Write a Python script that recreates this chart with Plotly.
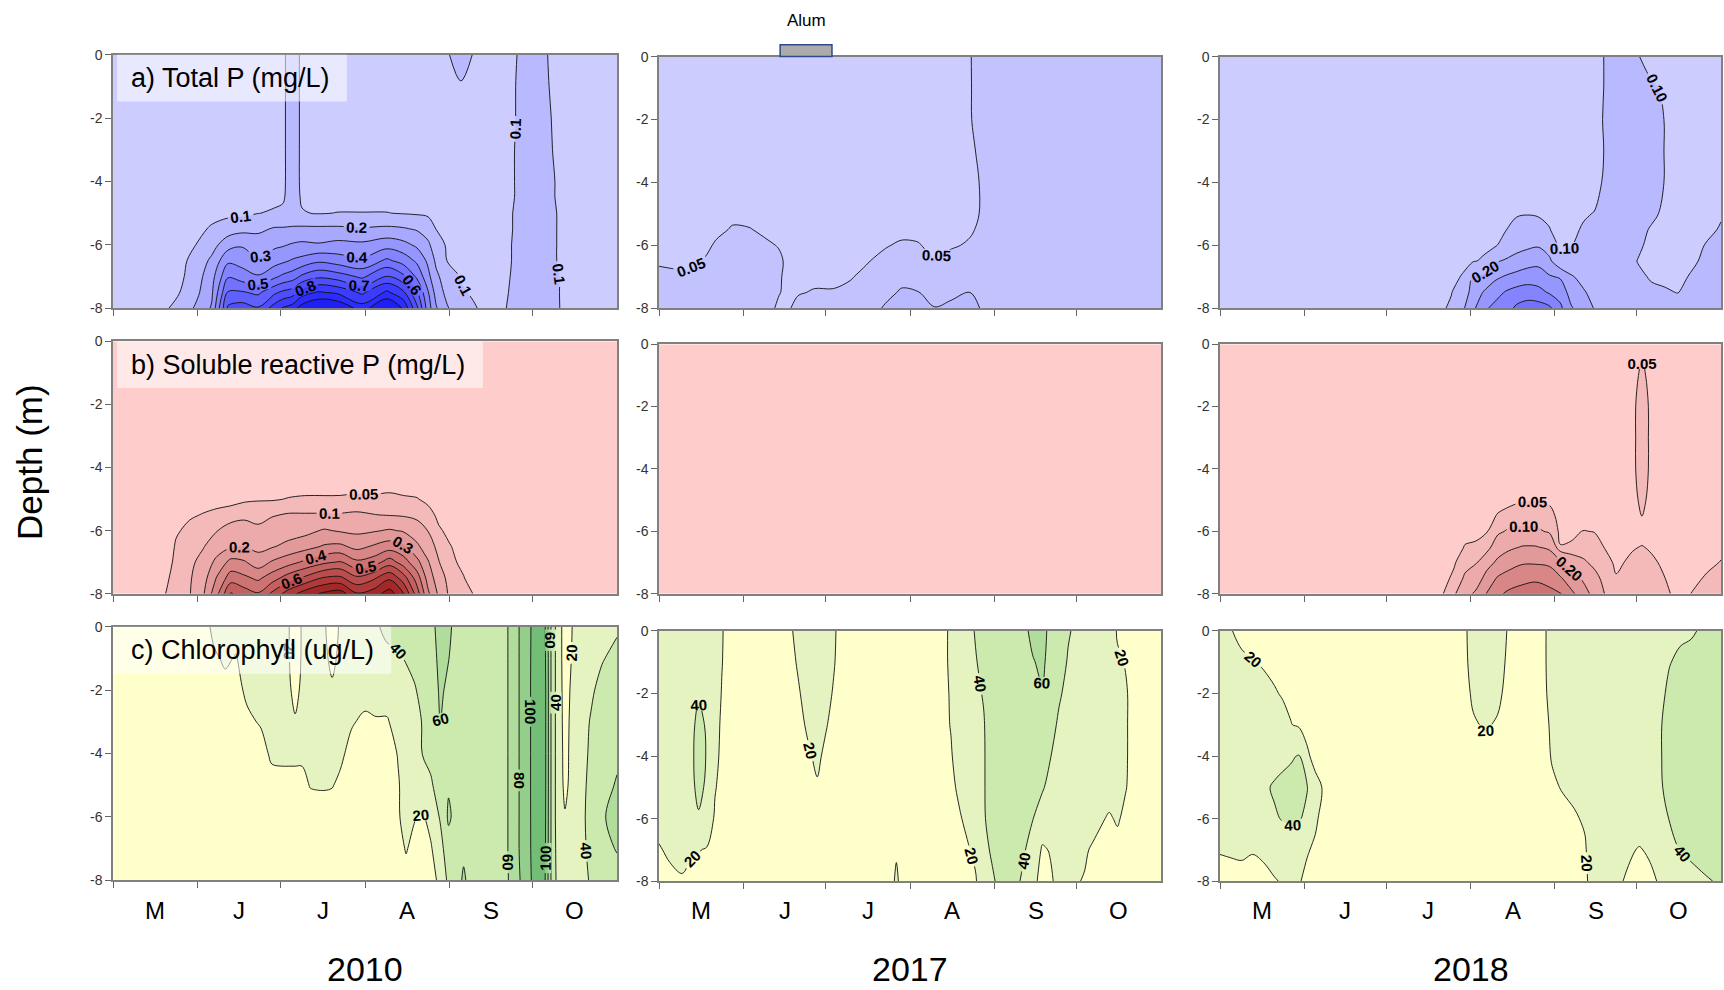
import numpy as np
import plotly.graph_objects as go

FONT = "Liberation Sans"
W, H = 1724, 990

# ---------------- shared axis content ----------------
MONTH_STARTS = [0, 31, 61, 92, 123, 153]          # days after 1 May
MONTH_MIDS = [15.5, 46, 76.5, 107.5, 138, 168.5]
MONTH_LETTERS = ["M", "J", "J", "A", "S", "O"]
SEASON_END = 184
YEARS = ["2010", "2017", "2018"]
DEPTH_TICKS = [0, -2, -4, -6, -8]
ALUM_2017 = [44.4, 63.4]                          # alum application window (days after 1 May)

# ---------------- a) Total P (mg/L) ----------------
TP10_DEPTHS = [0, -1, -2, -3, -4, -4.5, -5, -5.5, -6, -6.5, -7, -7.5, -8]
TP10_DAYS = [0, 18, 24, 30, 36, 42, 47, 53, 59, 62, 65.5, 69, 75, 82, 91, 100, 106, 111, 115, 118,
             122, 127, 132, 137, 142.5, 150, 156, 164, 174, 184]
TP10 = [
    [.07, .07, .07, .07, .07, .07, .07, .07, .07, .07, .07, .07, .07],
    [.07, .07, .07, .07, .07, .07, .07, .07, .07, .07, .07, .075, .08],
    [.07, .07, .07, .07, .07, .07, .07, .07, .07, .07, .075, .095, .13],
    [.07, .07, .07, .07, .07, .07, .07, .075, .098, .13, .15, .17, .21],
    [.07, .07, .07, .07, .07, .07, .075, .11, .16, .22, .26, .28, .31],
    [.07, .07, .07, .07, .07, .07, .078, .15, .26, .38, .49, .61, .72],
    [.07, .07, .07, .07, .07, .07, .08, .17, .29, .36, .45, .61, .75],
    [.07, .07, .07, .07, .07, .075, .098, .18, .25, .31, .41, .58, .71],
    [.07, .07, .07, .07, .07, .08, .11, .21, .28, .36, .48, .68, .85],
    [.085, .085, .085, .085, .085, .09, .115, .21, .29, .38, .52, .72, .91],
    [.14, .14, .14, .14, .14, .14, .15, .21, .31, .41, .55, .75, .95],
    [.085, .085, .085, .085, .085, .09, .105, .22, .32, .43, .62, .85, 1.05],
    [.07, .07, .07, .07, .07, .07, .095, .22, .31, .48, .68, .91, 1.12],
    [.07, .07, .07, .07, .07, .07, .102, .22, .33, .45, .65, .88, 1.1],
    [.07, .07, .07, .07, .07, .07, .102, .21, .32, .42, .58, .78, .95],
    [.07, .07, .07, .07, .07, .07, .102, .22, .36, .52, .71, .92, 1.12],
    [.07, .07, .07, .07, .07, .07, .095, .21, .33, .46, .62, .82, .99],
    [.07, .07, .07, .07, .07, .07, .09, .19, .28, .38, .48, .61, .72],
    [.07, .07, .07, .07, .07, .07, .085, .15, .22, .28, .33, .41, .45],
    [.07, .07, .07, .07, .07, .07, .08, .098, .14, .18, .22, .26, .31],
    [.095, .07, .07, .07, .07, .07, .07, .08, .09, .098, .15, .17, .21],
    [.125, .095, .07, .07, .07, .07, .07, .07, .075, .085, .095, .11, .13],
    [.095, .07, .07, .07, .07, .07, .07, .07, .07, .075, .08, .09, .105],
    [.07, .07, .07, .07, .07, .07, .07, .07, .07, .07, .07, .075, .08],
    [.07, .07, .07, .07, .07, .07, .075, .075, .08, .08, .085, .09, .095],
    [.115, .12, .12, .125, .125, .125, .13, .13, .13, .13, .13, .13, .13],
    [.115, .12, .125, .125, .13, .13, .13, .13, .13, .13, .135, .135, .14],
    [.07, .07, .075, .08, .085, .085, .09, .09, .09, .09, .095, .095, .095],
    [.07, .07, .07, .07, .07, .07, .07, .07, .07, .07, .07, .07, .07],
    [.07, .07, .07, .07, .07, .07, .07, .07, .07, .07, .07, .07, .07],
]

TP_DEPTHS = [0, -1, -2, -3, -4, -5, -5.5, -6, -6.5, -7, -7.5, -8]
TP17_DAYS = [0, 12, 17, 21, 27, 33, 40, 44, 47, 51, 57, 64, 70, 76, 83, 89, 95, 101, 107, 114,
             119, 131, 152, 184]
TP17 = [
    [.04, .04, .04, .04, .04, .04, .04, .043, .048, .054, .056, .058],
    [.04, .04, .04, .04, .04, .04, .04, .043, .047, .053, .056, .058],
    [.04, .04, .04, .04, .04, .04, .042, .045, .052, .056, .058, .06],
    [.04, .04, .04, .04, .04, .042, .045, .053, .056, .058, .06, .06],
    [.04, .04, .04, .04, .04, .045, .052, .056, .058, .06, .06, .06],
    [.04, .04, .04, .04, .04, .044, .051, .055, .057, .058, .058, .058],
    [.04, .04, .04, .04, .04, .043, .046, .052, .055, .056, .056, .056],
    [.04, .04, .04, .04, .04, .042, .044, .049, .053, .052, .051, .046],
    [.04, .04, .04, .04, .04, .042, .044, .046, .047, .046, .046, .048],
    [.04, .04, .04, .04, .04, .042, .043, .044, .045, .047, .049, .054],
    [.04, .04, .04, .04, .04, .042, .043, .044, .045, .047, .051, .055],
    [.04, .04, .04, .04, .04, .042, .043, .044, .045, .047, .051, .055],
    [.04, .04, .04, .04, .04, .042, .043, .044, .046, .049, .053, .056],
    [.04, .04, .04, .04, .04, .042, .043, .045, .049, .053, .056, .062],
    [.04, .04, .04, .04, .04, .042, .045, .049, .054, .06, .078, .11],
    [.04, .04, .04, .04, .04, .043, .046, .052, .058, .075, .11, .12],
    [.04, .04, .04, .04, .04, .043, .046, .051, .056, .07, .102, .115],
    [.04, .04, .04, .04, .042, .044, .045, .046, .051, .06, .08, .102],
    [.04, .04, .04, .043, .045, .045, .046, .049, .053, .065, .09, .11],
    [.049, .049, .049, .048, .048, .048, .049, .051, .055, .068, .101, .112],
    [.06, .058, .057, .053, .051, .051, .052, .054, .056, .065, .08, .095],
    [.065, .065, .065, .065, .065, .065, .065, .065, .065, .066, .068, .07],
    [.065, .065, .065, .065, .065, .065, .065, .065, .065, .065, .065, .065],
    [.065, .065, .065, .065, .065, .065, .065, .065, .065, .065, .065, .065],
]

TP18_DAYS = [0, 40, 79, 85, 89, 93, 97, 101, 105, 109, 113, 117, 121, 125, 129, 133.5, 137.5,
             141.5, 147.5, 153.5, 158.5, 163.5, 168, 172, 178, 184]
TP18 = [
    [.07, .07, .07, .07, .07, .07, .07, .07, .07, .07, .07, .07],
    [.07, .07, .07, .07, .07, .07, .07, .07, .07, .07, .07, .07],
    [.07, .07, .07, .07, .07, .07, .07, .07, .07, .07, .075, .08],
    [.07, .07, .07, .07, .07, .07, .07, .07, .07, .08, .098, .11],
    [.07, .07, .07, .07, .07, .07, .07, .07, .08, .105, .14, .18],
    [.07, .07, .07, .07, .07, .07, .07, .08, .095, .21, .24, .28],
    [.07, .07, .07, .07, .07, .07, .07, .085, .11, .22, .31, .38],
    [.07, .07, .07, .07, .07, .07, .08, .09, .19, .28, .36, .43],
    [.07, .07, .07, .07, .07, .085, .098, .14, .21, .31, .41, .46],
    [.07, .07, .07, .07, .07, .095, .12, .16, .24, .33, .44, .52],
    [.07, .07, .07, .07, .075, .098, .125, .18, .26, .35, .45, .55],
    [.07, .07, .07, .07, .075, .095, .12, .19, .27, .35, .43, .55],
    [.07, .07, .07, .07, .07, .09, .102, .15, .22, .31, .39, .52],
    [.07, .07, .07, .07, .07, .075, .08, .085, .12, .29, .36, .42],
    [.07, .07, .07, .07, .07, .08, .09, .098, .13, .21, .26, .31],
    [.07, .07, .07, .07, .075, .095, .105, .12, .14, .17, .21, .25],
    [.07, .07, .07, .07, .08, .102, .11, .12, .13, .15, .17, .195],
    [.105, .105, .11, .105, .11, .115, .12, .12, .125, .125, .13, .13],
    [.13, .13, .13, .13, .13, .13, .13, .13, .13, .13, .13, .13],
    [.102, .12, .125, .125, .125, .12, .115, .11, .098, .11, .12, .13],
    [.085, .105, .12, .12, .12, .11, .095, .085, .085, .095, .11, .125],
    [.075, .095, .098, .098, .098, .09, .08, .075, .08, .09, .105, .12],
    [.07, .07, .07, .07, .07, .07, .07, .07, .075, .085, .099, .115],
    [.07, .07, .07, .07, .07, .07, .07, .07, .085, .101, .11, .12],
    [.07, .07, .07, .07, .07, .07, .085, .101, .11, .115, .12, .12],
    [.07, .07, .07, .07, .07, .095, .105, .11, .115, .12, .12, .12],
]

# ---------------- b) Soluble reactive P (mg/L) ----------------
SRP10_DEPTHS = [0, -1, -2, -3, -4, -4.5, -5, -5.5, -6, -6.5, -7, -7.5, -8]
SRP10_DAYS = [0, 15, 19, 23, 28, 33, 38, 43, 48, 53, 58, 64, 70, 77, 83, 89, 95, 101, 106, 111,
              115, 119, 123, 128, 133.5, 152, 184]
SRP10 = [
    [.02, .02, .02, .02, .02, .02, .02, .02, .02, .02, .02, .02, .02],
    [.02, .02, .02, .02, .02, .02, .02, .02, .02, .02, .02, .02, .03],
    [.02, .02, .02, .02, .02, .02, .02, .02, .02, .02, .02, .035, .048],
    [.02, .02, .02, .02, .02, .02, .025, .035, .045, .055, .065, .075, .085],
    [.02, .02, .02, .02, .02, .022, .03, .045, .06, .07, .08, .09, .095],
    [.02, .02, .02, .02, .02, .025, .035, .052, .07, .095, .13, .16, .19],
    [.02, .02, .02, .02, .02, .025, .035, .06, .098, .15, .23, .31, .38],
    [.02, .02, .02, .02, .02, .025, .035, .07, .13, .19, .33, .45, .61],
    [.02, .02, .02, .02, .02, .027, .04, .09, .12, .205, .31, .42, .55],
    [.02, .02, .02, .02, .02, .028, .045, .085, .11, .17, .25, .38, .51],
    [.02, .02, .02, .02, .02, .03, .045, .095, .13, .19, .31, .45, .62],
    [.02, .02, .02, .02, .02, .03, .052, .105, .15, .23, .36, .55, .75],
    [.02, .02, .02, .02, .02, .032, .055, .105, .17, .26, .42, .62, .85],
    [.02, .02, .02, .02, .02, .032, .055, .105, .21, .31, .48, .71, .92],
    [.02, .02, .02, .02, .02, .033, .055, .105, .19, .32, .51, .72, .95],
    [.02, .02, .02, .02, .02, .035, .058, .11, .18, .27, .42, .62, .81],
    [.02, .02, .02, .02, .02, .035, .056, .102, .19, .31, .45, .68, .85],
    [.02, .02, .02, .02, .02, .035, .06, .095, .21, .35, .55, .78, .95],
    [.02, .02, .02, .02, .02, .033, .055, .09, .19, .32, .45, .65, .81],
    [.02, .02, .02, .02, .02, .03, .052, .08, .14, .22, .33, .45, .55],
    [.02, .02, .02, .02, .02, .025, .04, .065, .098, .14, .21, .26, .32],
    [.02, .02, .02, .02, .02, .02, .03, .04, .055, .075, .102, .14, .18],
    [.02, .02, .02, .02, .02, .02, .025, .03, .04, .052, .06, .07, .08],
    [.02, .02, .02, .02, .02, .02, .02, .025, .03, .035, .04, .052, .058],
    [.02, .02, .02, .02, .02, .02, .02, .02, .02, .02, .02, .02, .045],
    [.02, .02, .02, .02, .02, .02, .02, .02, .02, .02, .02, .02, .02],
    [.02, .02, .02, .02, .02, .02, .02, .02, .02, .02, .02, .02, .02],
]

SRP17_DEPTHS = [0, -4, -8]
SRP17_DAYS = [0, 92, 184]
SRP17 = [
    [.02, .02, .02],
    [.02, .02, .02],
    [.02, .02, .025],
]

SRP18_DEPTHS = [0, -1, -2, -3, -4, -5, -5.5, -6, -6.5, -7, -7.5, -8]
SRP18_DAYS = [0, 60, 81, 86, 90, 94, 98, 102, 106, 111, 116, 121, 125, 129, 133.5, 137.5, 141.5,
              145.5, 149.5, 151.5, 155, 158.5, 162, 166, 170, 174, 179, 184]
SRP18 = [
    [.03, .03, .03, .03, .03, .03, .03, .03, .03, .03, .03, .03],
    [.03, .03, .03, .03, .03, .03, .03, .03, .03, .03, .03, .03],
    [.03, .03, .03, .03, .03, .03, .03, .03, .03, .03, .03, .04],
    [.03, .03, .03, .03, .03, .03, .03, .03, .035, .045, .06, .09],
    [.03, .03, .03, .03, .03, .03, .035, .04, .052, .08, .11, .16],
    [.03, .03, .03, .03, .03, .03, .035, .042, .055, .095, .14, .22],
    [.03, .03, .03, .03, .03, .035, .04, .048, .07, .16, .24, .305],
    [.03, .03, .03, .03, .03, .04, .052, .085, .15, .22, .31, .38],
    [.03, .03, .03, .03, .03, .042, .06, .11, .18, .26, .34, .42],
    [.03, .03, .03, .03, .032, .048, .065, .12, .205, .29, .37, .44],
    [.03, .03, .03, .03, .032, .049, .065, .115, .205, .29, .38, .46],
    [.03, .03, .03, .03, .03, .045, .06, .09, .18, .28, .36, .43],
    [.03, .03, .03, .03, .03, .035, .04, .04, .052, .22, .31, .41],
    [.03, .03, .03, .03, .03, .035, .04, .042, .055, .15, .25, .32],
    [.03, .03, .03, .03, .03, .035, .04, .051, .07, .11, .18, .25],
    [.03, .03, .03, .03, .03, .03, .035, .049, .062, .085, .12, .16],
    [.03, .03, .03, .03, .03, .03, .03, .04, .048, .06, .08, .095],
    [.03, .03, .03, .03, .03, .03, .03, .035, .04, .045, .052, .065],
    [.03, .03, .03, .03, .03, .03, .03, .038, .045, .052, .06, .065],
    [.03, .04, .045, .045, .045, .04, .035, .04, .048, .055, .06, .065],
    [.045, .056, .06, .06, .06, .057, .051, .04, .051, .058, .062, .065],
    [.03, .04, .045, .045, .045, .04, .035, .038, .047, .054, .058, .06],
    [.03, .03, .03, .03, .03, .03, .03, .035, .042, .048, .053, .056],
    [.03, .03, .03, .03, .03, .03, .03, .03, .035, .04, .045, .049],
    [.03, .03, .03, .03, .03, .03, .03, .03, .03, .035, .04, .045],
    [.03, .03, .03, .03, .03, .03, .03, .03, .035, .04, .045, .052],
    [.03, .03, .03, .03, .03, .03, .03, .035, .04, .045, .053, .058],
    [.03, .03, .03, .03, .03, .03, .03, .04, .045, .051, .056, .06],
]

# ---------------- c) Chlorophyll (ug/L) ----------------
CHL_DEPTHS = [0, -1, -2, -3, -4, -5, -6, -7, -8]
CHL10_DAYS = [0, 20, 33, 37, 41, 45, 49, 54, 58, 62, 64, 66.5, 69, 72, 77, 80, 83, 87, 92, 96,
              100, 104, 107, 110, 113, 116, 119.5, 122.5, 125, 128, 131, 138, 143, 146, 149, 152,
              154.5, 157.5, 160, 162.5, 165, 168, 171, 174.5, 178.5, 184]
CHL10 = [
    [10, 10, 10, 10, 10, 10, 10, 10, 10],
    [10, 10, 10, 10, 10, 10, 10, 10, 10],
    [17, 14, 12, 10, 10, 10, 10, 10, 10],
    [22, 19, 16, 12, 10, 10, 10, 10, 10],
    [24, 21, 18, 14, 11, 10, 10, 10, 10],
    [23, 19.5, 17, 14, 11, 10, 10, 10, 10],
    [27, 25, 22, 18, 14, 11, 10, 10, 10],
    [28, 27, 25, 21, 16, 12, 10, 10, 10],
    [28, 27, 26, 24, 22, 16, 12, 10, 10],
    [26, 25, 24, 23, 22, 17, 12, 10, 10],
    [21, 21, 22, 23, 22, 17, 12, 10, 10],
    [14, 15, 17, 21, 22, 17, 12, 10, 10],
    [21, 21, 22, 23, 22, 17, 12, 10, 10],
    [26, 27, 27, 26, 24, 20.5, 15, 11, 10],
    [22, 23, 25, 26, 25, 21, 15, 11, 10],
    [13, 17, 22, 25, 24, 20.5, 15, 11, 10],
    [22, 23, 24, 25, 22, 18, 14, 11, 10],
    [26, 26, 25, 21, 17, 14, 12, 10, 10],
    [30, 28, 24, 18, 15, 12, 10, 10, 10],
    [38, 30, 25, 19, 15, 12, 10, 10, 10],
    [44, 36, 25, 19, 15, 13, 11, 10, 10],
    [45, 38, 31, 24, 20.5, 19, 19, 15, 12],
    [46, 41, 35, 28, 25, 24, 23, 21, 15],
    [47, 43, 39, 33, 30, 26, 21, 16, 12],
    [50, 46, 43, 41, 40.5, 33, 18, 14, 12],
    [52, 50, 48, 46, 44, 38, 26, 18, 14],
    [70, 66, 63, 60.5, 52, 47, 42, 33, 24],
    [64, 60.5, 56, 52, 55, 58, 63, 52, 45],
    [55, 54, 53, 52, 52, 56, 55, 52, 50],
    [52, 52, 52, 52, 52, 52, 53, 56, 63],
    [50, 50, 50, 50, 50, 50, 50, 51, 52],
    [50, 50, 50, 50, 50, 50, 50, 50, 50],
    [55, 55, 55, 55, 55, 55, 55, 55, 55],
    [68, 68, 68, 68, 68, 68, 68, 68, 66],
    [84, 84, 84, 84, 84, 84, 84, 84, 82],
    [97, 97, 97, 97, 97, 97, 97, 97, 96],
    [110, 112, 114, 114, 114, 114, 113, 112, 110],
    [106, 108, 110, 110, 110, 110, 109, 108, 105],
    [58, 58, 58, 58, 58, 58, 58, 58, 58],
    [28, 28, 28, 28, 28, 28, 28, 30, 32],
    [13, 13, 14, 15, 16, 17, 21, 24, 24],
    [21, 22, 24, 25, 25, 25, 25, 25, 24],
    [25, 28, 33, 35, 36, 36, 36, 35, 34],
    [30, 33, 38, 41, 42, 44, 46, 45, 42],
    [34, 39, 44, 46, 48, 52, 58, 55, 50],
    [38, 44, 49, 52, 56, 62, 66, 61, 54],
]

CHL17_DAYS = [0, 4, 8.5, 12, 14.5, 17.5, 20.5, 23, 26, 40, 47, 51, 55, 58, 61, 64, 67, 75, 85,
              87, 89, 95, 104, 107, 110, 113, 116, 119, 122, 125, 128, 131, 134, 137, 140.5,
              143.5, 146.5, 150, 153, 156, 159, 162, 165, 168, 171, 174, 178, 184]
CHL17 = [
    [27, 27, 27, 27, 27, 26, 24, 19, 15],
    [28, 28, 28, 28, 28, 27, 25, 22, 17],
    [29, 29, 29, 29, 29, 28, 26, 23, 19],
    [29, 30, 32, 36, 37, 36, 30, 21, 17],
    [30, 33, 38, 45, 47, 45, 38, 20.5, 17],
    [29, 31, 34, 38, 39, 37, 30, 19, 16],
    [26, 26, 26, 25, 24, 21, 18, 16, 14],
    [21, 20.5, 19.5, 18, 17, 16, 14, 12, 12],
    [15, 15, 15, 15, 15, 14, 13, 12, 12],
    [14, 14, 14, 14, 14, 14, 14, 14, 14],
    [17, 16, 15, 14, 13, 13, 13, 12, 12],
    [23, 21, 19, 17, 15, 14, 13, 12, 12],
    [27, 26, 24, 22, 19, 16, 14, 12, 12],
    [28, 27, 26, 25, 22, 19, 15, 13, 12],
    [27, 26, 24, 21, 18, 15, 14, 12, 12],
    [22, 21, 19, 17, 15, 14, 13, 12, 12],
    [15, 15, 15, 14, 14, 14, 13, 12, 12],
    [14, 14, 14, 14, 14, 14, 14, 14, 14],
    [14, 14, 14, 14, 14, 14, 14, 14, 15],
    [14, 14, 14, 14, 14, 14, 15, 18, 23],
    [14, 14, 14, 14, 14, 14, 14, 14, 15],
    [15, 15, 15, 15, 15, 15, 15, 15, 15],
    [17, 17, 17, 17, 17, 17, 16, 15, 15],
    [22, 22, 21, 20.5, 19, 18, 17, 16, 16],
    [30, 30, 29, 27, 25, 21.5, 19, 17, 16],
    [35, 35, 34, 32, 30, 26, 22, 19, 17],
    [41, 39, 37, 36, 35, 32, 27, 22, 19],
    [46, 44, 41, 39, 38.5, 38.5, 38, 33, 27],
    [50, 50, 49, 48, 48, 48, 47, 43, 36],
    [52, 52, 52, 52, 52, 51, 50, 48, 46],
    [55, 55, 55, 54, 53, 52, 50, 48, 46],
    [56, 56, 55, 54, 53, 51, 48, 45, 43],
    [57, 56, 55, 54, 52, 50, 46, 41, 36],
    [64, 59, 56, 53, 50, 46, 40.5, 32, 26],
    [66, 63, 59, 53, 46, 42, 30, 18, 13],
    [55, 54, 50, 45, 40.5, 34, 28, 21, 18],
    [47, 45, 42, 38, 34, 30, 27, 24, 24],
    [41, 39, 36, 34, 31, 29, 26, 23, 21],
    [38, 35, 32, 30, 28, 26, 24, 22, 20.5],
    [34, 32, 30, 29, 28, 26, 24, 21, 19.5],
    [31, 30, 29, 28, 27, 26, 23, 19, 16],
    [29, 28, 27, 27, 26, 25, 21, 17, 14],
    [27, 26, 26, 26, 25, 24, 19, 15, 13],
    [19, 21.5, 23, 24, 24, 23, 21, 17, 14],
    [16, 19.5, 21, 21, 21, 20.5, 18, 15, 13],
    [15, 16, 17, 17, 17, 17, 15, 14, 13],
    [14, 14, 14, 14, 14, 14, 14, 14, 14],
    [14, 14, 14, 14, 14, 14, 14, 14, 14],
]

CHL18_DAYS = [0, 4, 8, 12, 16, 20, 23, 26, 29, 32, 35, 38, 45, 85, 89, 93, 97.5, 102, 106, 110,
              116, 119, 122, 126, 130, 134, 137, 145, 150, 154, 158, 162, 165, 169, 173, 178, 184]
CHL18 = [
    [21, 24, 27, 28, 28, 28, 26, 20.5, 17],
    [20.5, 23, 26, 28, 28, 28, 26, 21, 17],
    [17, 22, 25, 27, 28, 29, 27, 21.5, 17],
    [16, 20.5, 24, 27, 29, 30, 28, 20.5, 17],
    [15, 19, 23, 26, 30, 37, 33, 22, 17],
    [14, 17, 21, 25, 33, 42, 38, 26, 19],
    [13, 16, 19, 24, 36, 44, 41, 28, 21],
    [12, 14, 17, 20.5, 38, 46, 43, 30, 21],
    [11, 13, 15, 18, 41, 46, 42, 30, 21],
    [11, 12, 13, 16, 22, 41, 35, 21, 17],
    [10, 11, 12, 13, 16, 24, 22, 18, 16],
    [10, 10, 11, 12, 14, 19, 16, 14, 13],
    [12, 12, 12, 12, 12, 12, 12, 12, 12],
    [13, 13, 13, 13, 13, 13, 13, 13, 13],
    [17, 17, 16, 15, 14, 13, 13, 13, 13],
    [24, 23, 21.5, 19, 16, 14, 13, 13, 13],
    [26, 25, 24, 21, 17, 15, 13, 13, 13],
    [25, 24, 22, 19, 16, 14, 13, 13, 13],
    [19, 18, 17, 16, 15, 14, 13, 13, 13],
    [14, 14, 14, 14, 14, 14, 14, 14, 14],
    [16, 16, 16, 16, 15, 15, 14, 14, 14],
    [19, 19, 19, 18.5, 18, 17, 16, 15, 15],
    [23, 23, 22, 21, 20.5, 19, 18, 17, 16],
    [26, 26, 25, 25, 24, 20.5, 18, 17, 16],
    [27, 27, 27, 26, 26, 22, 19, 17, 16],
    [28, 28, 28, 28, 28, 26, 21, 19, 18],
    [28, 28, 28, 28, 28, 28, 27, 25, 24],
    [29, 29, 29, 29, 29, 28, 27, 25, 23],
    [30, 30, 30, 30, 30, 29, 27, 22, 18],
    [31, 31, 31, 31, 32, 31, 28, 19, 15],
    [33, 32, 32, 33, 34, 33, 29, 22, 17],
    [34, 36, 38, 39.5, 39.5, 39, 35, 28, 22],
    [37, 39.5, 42, 45, 46, 44, 40.5, 32, 26],
    [38, 42, 47, 50, 51, 49, 45, 40.5, 30],
    [38.5, 44, 50, 53, 54, 52, 48, 43, 35],
    [42, 47, 52, 55, 56, 55, 52, 47, 38],
    [45, 50, 54, 57, 58, 57, 55, 50, 42],
]

# ---------------- colour bands (lower bound -> fill) ----------------
TP_PALETTE = [(0.0, "#CCCCFF"), (0.05, "#C2C2FF"), (0.1, "#B9B9FF"), (0.2, "#A8A8FF"),
              (0.3, "#9696FF"), (0.4, "#8484FF"), (0.5, "#7272FF"), (0.6, "#6060FF"),
              (0.7, "#4E4EFF"), (0.8, "#3C3CFF"), (0.9, "#2C2CFF"), (1.0, "#1E1EF5")]
SRP_PALETTE = [(0.0, "#FFCCCC"), (0.05, "#F4B9B9"), (0.1, "#ECAAAA"), (0.2, "#E29999"),
               (0.3, "#D88686"), (0.4, "#CE7373"), (0.5, "#C46060"), (0.6, "#BA4D4D"),
               (0.7, "#B03A3A"), (0.8, "#A52828"), (0.9, "#991818")]
CHL_PALETTE = [(0, "#FFFFCC"), (20, "#E5F3C1"), (40, "#CCE9AE"), (60, "#B0DC9C"),
               (80, "#93CF8B"), (100, "#72BE77")]

# panel layout in page pixels: column x-extent, row y-extent per column
COL_PX = [(113, 617), (659, 1161), (1220, 1721)]
ROW_PX = [[(54, 308), (56, 308), (56, 308)],
          [(341, 594), (344, 594), (344, 594)],
          [(627, 881), (631, 882), (631, 882)]]

# (days, depths, profiles, fill levels, labelled line sets, palette)
PANELS = [
    (TP10_DAYS, TP10_DEPTHS, TP10, (0.1, 1.0, 0.1), [(0.1, 1.0, 0.1, ".1f")], TP_PALETTE),
    (TP17_DAYS, TP_DEPTHS, TP17, (0.05, 0.10, 0.05), [(0.05, 0.10, 0.05, ".2f")], TP_PALETTE),
    (TP18_DAYS, TP_DEPTHS, TP18, (0.1, 0.5, 0.1), [(0.1, 0.5, 0.1, ".2f")], TP_PALETTE),
    (SRP10_DAYS, SRP10_DEPTHS, SRP10, (0.05, 0.9, 0.05),
     [(0.05, 0.05, 0.05, ".2f"), (0.1, 0.9, 0.1, ".1f")], SRP_PALETTE),
    (SRP17_DAYS, SRP17_DEPTHS, SRP17, (0.05, 0.05, 0.05), [], SRP_PALETTE),
    (SRP18_DAYS, SRP18_DEPTHS, SRP18, (0.05, 0.4, 0.05),
     [(0.05, 0.05, 0.05, ".2f"), (0.1, 0.4, 0.1, ".2f")], SRP_PALETTE),
    (CHL10_DAYS, CHL_DEPTHS, CHL10, (20, 100, 20), [(20, 100, 20, ".0f")], CHL_PALETTE),
    (CHL17_DAYS, CHL_DEPTHS, CHL17, (20, 100, 20), [(20, 100, 20, ".0f")], CHL_PALETTE),
    (CHL18_DAYS, CHL_DEPTHS, CHL18, (20, 100, 20), [(20, 100, 20, ".0f")], CHL_PALETTE),
]

PANEL_TITLES = ["a) Total P (mg/L)", "b) Soluble reactive P (mg/L)", "c) Chlorophyll (ug/L)"]
TITLE_BOX_FRAC = [0.464, 0.734, 0.552]

# the captured page is squeezed slightly in height; these undo it for vertical placement
Y_SCALE, Y_OFFSET = 0.9854, 7.3


def contour_levels(start, end, size):
    n = int(np.floor((end - start) / size + 1e-6)) + 1
    return [start + k * size for k in range(n)]


def band_colorscale(levels, palette):
    """One flat colour per band: below the first level, then between successive levels."""
    n = len(levels)
    bounds = [-np.inf] + levels
    scale = []
    for j, lb in enumerate(bounds):
        colour = palette[0][1]
        for thr, col in palette:
            if lb >= thr - 1e-9:
                colour = col
        scale.append([j / n, colour])
    return scale


def px_x(px):
    return px / W


def px_y(px):
    return 1 - ((px - Y_OFFSET) / Y_SCALE) / H


fig = go.Figure()

label_font = dict(family=FONT, size=15, color="black", weight="bold")

for idx, (days, depths, profiles, fill, line_sets, palette) in enumerate(PANELS):
    r, c = divmod(idx, 3)
    n = idx + 1
    xa = "x" if n == 1 else f"x{n}"
    ya = "y" if n == 1 else f"y{n}"
    z = np.array(profiles, dtype=float).T

    lv = contour_levels(*fill)
    fig.add_trace(go.Contour(
        x=days, y=depths, z=z, xaxis=xa, yaxis=ya,
        autocontour=False,
        contours=dict(start=fill[0], end=fill[1], size=fill[2], coloring="fill", showlines=False),
        colorscale=band_colorscale(lv, palette), showscale=False,
        line=dict(width=0, smoothing=1), hoverinfo="skip",
    ))
    for (s, e, sz, fmt) in line_sets:
        fig.add_trace(go.Contour(
            x=days, y=depths, z=z, xaxis=xa, yaxis=ya,
            autocontour=False,
            contours=dict(start=s, end=e, size=sz, coloring="none", showlines=True,
                          showlabels=True, labelfont=label_font, labelformat=fmt),
            line=dict(color="#111111", width=0.9, smoothing=1),
            showscale=False, hoverinfo="skip",
        ))

    x0, x1 = COL_PX[c]
    top, bot = ROW_PX[r][c]
    axis_common = dict(showline=True, mirror=True, linecolor="#808080", linewidth=1.5,
                       ticks="outside", ticklen=6, tickwidth=1, tickcolor="#666666",
                       showgrid=False, zeroline=False)
    fig.layout[f"xaxis{'' if n == 1 else n}"] = dict(
        domain=[px_x(x0), px_x(x1)], anchor=ya, range=[0, SEASON_END],
        tickmode="array", tickvals=MONTH_STARTS, showticklabels=False, **axis_common)
    fig.layout[f"yaxis{'' if n == 1 else n}"] = dict(
        domain=[px_y(bot), px_y(top)], anchor=xa, range=[-8, 0],
        tickmode="array", tickvals=DEPTH_TICKS, ticktext=[str(v) for v in DEPTH_TICKS],
        tickfont=dict(family=FONT, size=14, color="#333333"), **axis_common)

shapes = []
annotations = []

# variable labels on semi-transparent boxes (left column)
for r in range(3):
    n = r * 3 + 1
    xd = "x domain" if n == 1 else f"x{n} domain"
    yd = "y domain" if n == 1 else f"y{n} domain"
    top, bot = ROW_PX[r][0]
    box_h = 47 / (bot - top)
    shapes.append(dict(type="rect", xref=xd, yref=yd, x0=0.008 if r < 2 else 0.0,
                       x1=TITLE_BOX_FRAC[r], y0=1 - box_h, y1=1,
                       fillcolor="rgba(255,255,255,0.55)", line=dict(width=0), layer="above"))
    annotations.append(dict(text=PANEL_TITLES[r], xref=xd, yref=yd, x=0.032, y=1 - box_h / 2,
                            xanchor="left", yanchor="middle", showarrow=False,
                            font=dict(family=FONT, size=27, color="black")))

# alum treatment marker above the 2017 total-P panel
shapes.append(dict(type="rect", xref="x2", yref="paper", x0=ALUM_2017[0], x1=ALUM_2017[1],
                   y0=px_y(56), y1=px_y(44), fillcolor="#ABABAB",
                   line=dict(color="#2E4A8A", width=1.5), layer="above"))
annotations.append(dict(text="Alum", xref="x2", yref="paper",
                        x=(ALUM_2017[0] + ALUM_2017[1]) / 2, y=px_y(20),
                        xanchor="center", yanchor="middle", showarrow=False,
                        font=dict(family=FONT, size=17, color="black")))

# month letters under the bottom row, years below them
for c in range(3):
    n = 7 + c
    for mid, letter in zip(MONTH_MIDS, MONTH_LETTERS):
        annotations.append(dict(text=letter, xref=f"x{n}", yref="paper", x=mid, y=px_y(911),
                                xanchor="center", yanchor="middle", showarrow=False,
                                font=dict(family=FONT, size=24, color="black")))
    x0, x1 = COL_PX[c]
    annotations.append(dict(text=YEARS[c], xref="paper", yref="paper",
                            x=px_x((x0 + x1) / 2), y=px_y(970), xanchor="center",
                            yanchor="middle", showarrow=False,
                            font=dict(family=FONT, size=34, color="black")))

annotations.append(dict(text="Depth (m)", xref="paper", yref="paper", x=px_x(30), y=px_y(462),
                        xanchor="center", yanchor="middle", textangle=-90, showarrow=False,
                        font=dict(family=FONT, size=35, color="black")))

fig.update_layout(
    width=W, height=H, margin=dict(l=0, r=0, t=0, b=0),
    paper_bgcolor="white", plot_bgcolor="white",
    showlegend=False, shapes=shapes, annotations=annotations,
    font=dict(family=FONT),
)

fig.write_html("out.html")
